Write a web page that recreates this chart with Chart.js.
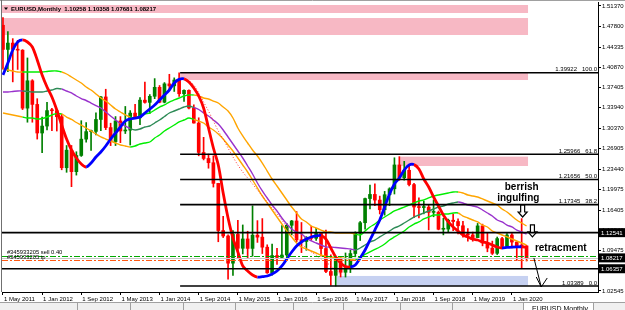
<!DOCTYPE html>
<html lang="en">
<head>
<meta charset="UTF-8">
<title>EURUSD Monthly</title>
<script src="https://cdn.jsdelivr.net/npm/chart.js"></script>
<style>
  html, body { margin: 0; padding: 0; background: #fff; }
  #wrap { width: 625px; height: 310px; }
</style>
</head>
<body>
<div id="wrap"><canvas id="eurusdChart" width="625" height="310"></canvas></div>
<script>
// EURUSD monthly candles, May 2011 .. Apr 2020 (index 0 = May 2011)
const opens = [1.4807,1.4393,1.4502,1.4393,1.4380,1.3387,1.3856,1.3451,1.2961,1.3080,
  1.3345,1.3343,1.3240,1.2366,1.2667,1.2299,1.2576,1.2856,1.2985,1.2988,
  1.3193,1.3579,1.3054,1.2814,1.3168,1.2996,1.3010,1.3302,1.3221,1.3524,
  1.3486,1.3590,1.3744,1.3488,1.3803,1.3769,1.3868,1.3634,1.3692,1.3389,
  1.3132,1.2628,1.2525,1.2452,1.2098,1.1290,1.1197,1.0731,1.1224,1.0986,
  1.1146,1.0984,1.1211,1.1177,1.1005,1.0565,1.0862,1.0830,1.0871,1.1380,
  1.1454,1.1132,1.1103,1.1175,1.1157,1.1240,1.0982,1.0589,1.0522,1.0798,
  1.0575,1.0652,1.0896,1.1244,1.1424,1.1838,1.1909,1.1812,1.1646,1.1904,
  1.2005,1.2414,1.2194,1.2323,1.2078,1.1693,1.1684,1.1691,1.1601,1.1604,
  1.1312,1.1315,1.1467,1.1445,1.1372,1.1218,1.1215,1.1169,1.1370,1.1077,
  1.0989,1.0900,1.1152,1.1017,1.1213,1.1093,1.1027,1.10258];
const highs = [1.4940,1.4698,1.4578,1.4549,1.4390,1.4247,1.3875,1.3549,1.3234,1.3486,
  1.3385,1.3365,1.3284,1.2747,1.2748,1.2640,1.3172,1.3140,1.3010,1.3308,
  1.3590,1.3711,1.3129,1.3243,1.3242,1.3416,1.3345,1.3452,1.3568,1.3833,
  1.3620,1.3893,1.3775,1.3825,1.3967,1.3906,1.3993,1.3700,1.3700,1.3444,
  1.3222,1.2887,1.2600,1.2570,1.2100,1.1534,1.1215,1.1290,1.1467,1.1386,
  1.1278,1.1714,1.1460,1.1495,1.1046,1.1060,1.0985,1.1376,1.1411,1.1464,
  1.1616,1.1428,1.1186,1.1366,1.1327,1.1259,1.1300,1.0874,1.0829,1.0829,
  1.0906,1.0951,1.1268,1.1446,1.1846,1.2070,1.2092,1.1880,1.1961,1.2023,
  1.2537,1.2556,1.2476,1.2414,1.2097,1.1852,1.1791,1.1733,1.1815,1.1625,
  1.1500,1.1486,1.1570,1.1489,1.1448,1.1324,1.1264,1.1412,1.1400,1.1249,
  1.1109,1.1179,1.1175,1.1240,1.1239,1.1096,1.1495,1.10358];
const lows = [1.4055,1.4010,1.3837,1.4050,1.3362,1.3146,1.3146,1.2857,1.2624,1.3013,
  1.3003,1.2995,1.2331,1.2288,1.2042,1.2240,1.2560,1.2802,1.2661,1.2927,
  1.3001,1.3019,1.2745,1.2746,1.2796,1.2952,1.2755,1.3205,1.3103,1.3474,
  1.3295,1.3549,1.3478,1.3477,1.3705,1.3673,1.3587,1.3503,1.3373,1.3130,
  1.2570,1.2500,1.2358,1.2035,1.1098,1.1170,1.0458,1.0520,1.0819,1.0889,
  1.0809,1.0850,1.1087,1.0896,1.0557,1.0524,1.0711,1.0809,1.0822,1.1216,
  1.1097,1.0912,1.0952,1.1123,1.1122,1.0852,1.0569,1.0352,1.0340,1.0494,
  1.0493,1.0570,1.0839,1.1119,1.1312,1.1662,1.1717,1.1574,1.1554,1.1717,
  1.1916,1.2152,1.2154,1.2055,1.1510,1.1508,1.1576,1.1301,1.1526,1.1302,
  1.1216,1.1269,1.1289,1.1234,1.1176,1.1110,1.1107,1.1168,1.1028,1.0926,
  1.0879,1.0879,1.0981,1.1003,1.0992,1.0778,1.0636,1.07681];
const closes = [1.4393,1.4502,1.4393,1.4380,1.3387,1.3856,1.3451,1.2961,1.3080,1.3345,
  1.3343,1.3240,1.2366,1.2667,1.2299,1.2576,1.2856,1.2985,1.2988,1.3193,
  1.3579,1.3054,1.2814,1.3168,1.2996,1.3010,1.3302,1.3221,1.3524,1.3486,
  1.3590,1.3744,1.3488,1.3803,1.3769,1.3868,1.3634,1.3692,1.3389,1.3132,
  1.2628,1.2525,1.2452,1.2098,1.1290,1.1197,1.0731,1.1224,1.0986,1.1146,
  1.0984,1.1211,1.1177,1.1005,1.0565,1.0862,1.0830,1.0871,1.1380,1.1454,
  1.1132,1.1103,1.1175,1.1157,1.1240,1.0982,1.0589,1.0522,1.0798,1.0575,
  1.0652,1.0896,1.1244,1.1424,1.1838,1.1909,1.1812,1.1646,1.1904,1.2005,
  1.2414,1.2194,1.2323,1.2078,1.1693,1.1684,1.1691,1.1601,1.1604,1.1312,
  1.1315,1.1467,1.1445,1.1372,1.1218,1.1215,1.1169,1.1370,1.1077,1.0989,
  1.0900,1.1152,1.1017,1.1213,1.1093,1.1026,1.1026,1.08217];

// smoothed trend line (blue rising / red falling)
const trendLine = [1.3955,1.4161,1.4383,1.4520,1.4555,1.4520,1.4435,1.4212,1.3955,1.3749,
  1.3578,1.3355,1.3098,1.2858,1.2670,1.2533,1.2430,1.2379,1.2447,1.2550,
  1.2636,1.2739,1.2858,1.2961,1.3064,1.3167,1.3201,1.3218,1.3235,1.3304,
  1.3372,1.3441,1.3527,1.3612,1.3698,1.3818,1.3880,1.3890,1.3835,1.3732,
  1.3595,1.3390,1.3047,1.2704,1.2413,1.1933,1.1505,1.1162,1.0923,1.0683,
  1.0597,1.0529,1.0494,1.0500,1.0511,1.0546,1.0597,1.0683,1.0803,1.0923,
  1.1025,1.1094,1.1145,1.1180,1.1197,1.1205,1.1145,1.0991,1.0837,1.0734,
  1.0672,1.0666,1.0700,1.0820,1.0957,1.1128,1.1299,1.1471,1.1693,1.1916,
  1.2088,1.2190,1.2327,1.2413,1.2420,1.2344,1.2173,1.2036,1.1865,1.1711,
  1.1556,1.1437,1.1351,1.1282,1.1214,1.1180,1.1145,1.1128,1.1094,1.1077,
  1.1042,1.1008,1.0991,1.1000,1.1006,1.1010,1.1012,1.1004];

// three-line ribbon: upper, middle, lower
const upperBand = [1.4058,1.4041,1.4024,1.4006,1.4006,1.4006,1.4006,1.4006,1.4006,1.4015,
  1.4024,1.4024,1.4006,1.3972,1.3921,1.3869,1.3818,1.3749,1.3698,1.3630,
  1.3561,1.3509,1.3441,1.3372,1.3321,1.3270,1.3235,1.3218,1.3252,1.3287,
  1.3304,1.3355,1.3406,1.3441,1.3492,1.3527,1.3561,1.3595,1.3612,1.3612,
  1.3595,1.3561,1.3544,1.3509,1.3475,1.3406,1.3338,1.3218,1.3047,1.2910,
  1.2790,1.2670,1.2567,1.2447,1.2310,1.2173,1.2053,1.1933,1.1813,1.1693,
  1.1591,1.1488,1.1437,1.1368,1.1334,1.1299,1.1265,1.1265,1.1248,1.1248,
  1.1248,1.1248,1.1231,1.1214,1.1282,1.1351,1.1402,1.1471,1.1522,1.1574,
  1.1625,1.1659,1.1693,1.1728,1.1762,1.1796,1.1813,1.1848,1.1882,1.1899,
  1.1916,1.1933,1.1950,1.1950,1.1933,1.1899,1.1882,1.1865,1.1831,1.1796,
  1.1762,1.1728,1.1659,1.1608,1.1539,1.1471,1.1419,1.1368];
const middleBand = [1.3664,1.3664,1.3672,1.3681,1.3681,1.3672,1.3664,1.3664,1.3664,1.3681,
  1.3698,1.3724,1.3715,1.3681,1.3647,1.3595,1.3552,1.3518,1.3475,1.3432,
  1.3390,1.3321,1.3252,1.3184,1.3124,1.3081,1.3038,1.3013,1.3030,1.3064,
  1.3081,1.3133,1.3184,1.3244,1.3304,1.3338,1.3372,1.3406,1.3424,1.3398,
  1.3364,1.3304,1.3252,1.3184,1.3115,1.3013,1.2893,1.2773,1.2653,1.2533,
  1.2396,1.2259,1.2105,1.1968,1.1848,1.1728,1.1625,1.1505,1.1402,1.1317,
  1.1265,1.1231,1.1162,1.1111,1.1077,1.1042,1.1008,1.1008,1.0999,1.0991,
  1.0982,1.0974,1.0957,1.0991,1.1042,1.1094,1.1128,1.1180,1.1231,1.1282,
  1.1334,1.1368,1.1419,1.1471,1.1522,1.1556,1.1591,1.1625,1.1659,1.1693,
  1.1711,1.1745,1.1762,1.1779,1.1762,1.1728,1.1711,1.1693,1.1642,1.1591,
  1.1539,1.1471,1.1437,1.1385,1.1351,1.1299,1.1265,1.1231];
const lowerBand = [1.3304,1.3287,1.3270,1.3252,1.3235,1.3218,1.3218,1.3201,1.3210,1.3235,
  1.3270,1.3295,1.3287,1.3235,1.3193,1.3141,1.3098,1.3047,1.2996,1.2944,
  1.2893,1.2858,1.2824,1.2790,1.2756,1.2739,1.2721,1.2739,1.2773,1.2790,
  1.2807,1.2876,1.2927,1.2996,1.3047,1.3098,1.3150,1.3184,1.3218,1.3193,
  1.3167,1.3133,1.3064,1.3013,1.2944,1.2858,1.2756,1.2653,1.2533,1.2413,
  1.2293,1.2156,1.2019,1.1882,1.1762,1.1642,1.1522,1.1402,1.1282,1.1180,
  1.1077,1.1008,1.0974,1.0940,1.0905,1.0871,1.0846,1.0837,1.0829,1.0820,
  1.0811,1.0803,1.0786,1.0837,1.0880,1.0923,1.0966,1.1008,1.1060,1.1128,
  1.1180,1.1231,1.1282,1.1351,1.1402,1.1437,1.1488,1.1522,1.1556,1.1556,
  1.1574,1.1574,1.1591,1.1591,1.1539,1.1505,1.1471,1.1437,1.1385,1.1351,
  1.1282,1.1248,1.1214,1.1180,1.1145,1.1111,1.1077,1.1042];
// month ranges where the ribbon is in its bullish colours
const bullSpans = [[4, 12], [26, 39], [72, 93]];

// dotted fast line during the 2014-2017 fall, starts at month 36
const dottedStart = 36;
const dottedLine = [1.3921,1.3886,1.3852,1.3784,1.3647,1.3492,1.3338,1.3167,1.2996,1.2858,
  1.2704,1.2550,1.2413,1.2293,1.2190,1.2088,1.1985,1.1882,1.1779,1.1676,
  1.1574,1.1471,1.1351,1.1248,1.1128,1.1060,1.0991,1.0923,1.0871,1.0803,
  1.0752,1.0683,1.0614,1.0529];

// axis ticks
const xTickIdx = [0, 8, 16, 24, 32, 40, 48, 56, 64, 72, 80, 88, 96, 104];
const xTickText = ['1 May 2011', '1 Jan 2012', '1 Sep 2012', '1 May 2013', '1 Jan 2014', '1 Sep 2014', '1 May 2015',
  '1 Jan 2016', '1 Sep 2016', '1 May 2017', '1 Jan 2018', '1 Sep 2018', '1 May 2019', '1 Jan 2020'];
const yTicks = [1.51370, 1.47800, 1.44335, 1.40870, 1.37405, 1.33940, 1.30370, 1.26905,
  1.23440, 1.19975, 1.16405, 1.12940, 1.09475, 1.06010, 1.02545];

// chart objects
const zoneTop = [1.5154, 1.4931, 1.3990, 1.2556, 1.0512];
const zoneBottom = [1.5017, 1.4640, 1.3869, 1.2396, 1.0345];
const zoneFrom = [-1, -1, 36.2, 81.1, 68.2];
const zoneTo = 107.3;
const fibLevels = [1.39922, 1.25966, 1.21656, 1.17345, 1.03389];
const fibPct = ['100.0', '61.8', '50.0', '38.2', '0.0'];
const fibFrom = 36.2;
const supportLevels = [1.12541, 1.06357];
const sellLevel = 1.0854;
const tpLevel = 1.0786;
const bidPrice = closes[closes.length - 1];
const axisMarks = [1.12541, bidPrice, 1.06357];

const idx = opens.map((_, i) => i);
const isBull = i => closes[i] >= opens[i];
const inBull = i => bullSpans.some(s => i >= s[0] && i < s[1]);
const BULL = '#008000', BEAR = '#ff0000';

function hline(ctx, x0, x1, yy) {
  ctx.beginPath(); ctx.moveTo(x0, yy); ctx.lineTo(x1, yy); ctx.stroke();
}

function hollowArrow(ctx, cx, tip, h) {
  ctx.beginPath();
  ctx.moveTo(cx - 2, tip - h);
  ctx.lineTo(cx + 2, tip - h);
  ctx.lineTo(cx + 2, tip - 5);
  ctx.lineTo(cx + 4.5, tip - 5);
  ctx.lineTo(cx, tip);
  ctx.lineTo(cx - 4.5, tip - 5);
  ctx.lineTo(cx - 2, tip - 5);
  ctx.closePath();
  ctx.strokeStyle = '#000'; ctx.lineWidth = 1.2; ctx.stroke();
}

const mtObjects = {
  id: 'mtObjects',
  beforeDatasetsDraw(chart) {
    const {ctx, chartArea: a, scales: {x, y}} = chart;
    ctx.save();
    ctx.beginPath(); ctx.rect(a.left, 0, a.right - a.left, a.bottom); ctx.clip();
    zoneTop.forEach((top, k) => {
      const x0 = Math.max(a.left, x.getPixelForValue(zoneFrom[k]));
      const x1 = x.getPixelForValue(zoneTo);
      const y0 = y.getPixelForValue(top), y1 = y.getPixelForValue(zoneBottom[k]);
      ctx.fillStyle = k === 4 ? '#c6d1f1' : '#f7b8c4';
      ctx.fillRect(x0, y0, x1 - x0, y1 - y0);
    });
    ctx.restore();
  },
  afterDatasetsDraw(chart) {
    const {ctx, chartArea: a, scales: {x, y}} = chart;
    const px = v => x.getPixelForValue(v), py = v => y.getPixelForValue(v);
    ctx.save();
    // current bid
    ctx.strokeStyle = '#c8c8c8'; ctx.lineWidth = 1;
    hline(ctx, a.left, a.right, Math.round(py(bidPrice)) + 0.5);
    // horizontal levels
    ctx.strokeStyle = '#000'; ctx.lineWidth = 1.6;
    supportLevels.forEach(v => hline(ctx, a.left, a.right, py(v)));
    ctx.font = '6px "Liberation Sans"';
    ctx.fillStyle = '#000'; ctx.textAlign = 'right'; ctx.textBaseline = 'alphabetic';
    fibLevels.forEach((v, k) => {
      hline(ctx, px(fibFrom), a.right, py(v));
      ctx.fillText(v.toFixed(5) + '   ' + fibPct[k], a.right - 1, py(v) - 1.5);
    });
    // order lines
    ctx.lineWidth = 1;
    ctx.setLineDash([6, 2, 2, 2]);
    ctx.strokeStyle = '#00a800';
    hline(ctx, a.left, a.right, Math.round(py(sellLevel)) + 0.5);
    ctx.strokeStyle = '#ff5a14';
    hline(ctx, a.left, a.right, Math.round(py(tpLevel)) + 0.5);
    ctx.setLineDash([]);
    ctx.textAlign = 'left';
    ctx.font = '5.8px "Liberation Sans"';
    ctx.fillText('#345933205 sell 0.40', px(0.8), py(sellLevel) - 1.5);
    ctx.fillText('#345933205 tp', px(0.8), py(tpLevel) - 0.5);
    // notes
    ctx.font = 'bold 10px "Liberation Sans"';
    ctx.textAlign = 'center';
    ctx.fillText('berrish', px(106.0), py(1.1985));
    ctx.fillText('ingulfing', px(105.3), py(1.1796));
    ctx.textAlign = 'left';
    ctx.fillText('retracment', px(108.7), py(1.0940));
    hollowArrow(ctx, px(106.2), py(1.1522), 12);
    hollowArrow(ctx, px(108.2), py(1.1180), 12);
    // thin arrow pointing down
    const sx = px(108.5), sy = py(1.0820), tx = px(110.0), ty = py(1.0323);
    ctx.strokeStyle = '#000'; ctx.lineWidth = 1;
    ctx.beginPath(); ctx.moveTo(sx, sy); ctx.lineTo(tx, ty); ctx.stroke();
    ctx.beginPath(); ctx.moveTo(tx - 5, ty - 10); ctx.lineTo(tx, ty); ctx.lineTo(tx + 6, ty - 9); ctx.stroke();
    ctx.restore();
  },
  afterDraw(chart) {
    const {ctx, chartArea: a, scales: {y}} = chart;
    const W = chart.width;
    ctx.save();
    // frame
    ctx.strokeStyle = '#a0a0a0'; ctx.lineWidth = 1;
    hline(ctx, 0, W, 0.5);
    ctx.strokeStyle = '#707070';
    ctx.beginPath(); ctx.moveTo(1.5, 0); ctx.lineTo(1.5, a.bottom); ctx.stroke();
    // price boxes on the axis
    ctx.font = '6px "Liberation Sans"';
    ctx.textAlign = 'left'; ctx.textBaseline = 'middle';
    axisMarks.forEach(v => {
      const yy = y.getPixelForValue(v);
      ctx.fillStyle = '#000'; ctx.fillRect(a.right + 1, yy - 4.5, W - a.right - 1, 9);
      ctx.fillStyle = '#fff'; ctx.fillText(v.toFixed(5), a.right + 3, yy + 0.5);
    });
    // title
    const last = opens.length - 1;
    ctx.fillStyle = '#000';
    ctx.beginPath(); ctx.moveTo(4, 7.5); ctx.lineTo(8, 7.5); ctx.lineTo(6, 10); ctx.closePath(); ctx.fill();
    ctx.textBaseline = 'alphabetic';
    ctx.font = 'bold 6px "Liberation Sans"';
    ctx.fillText('EURUSD,Monthly  ' + [opens[last], highs[last], lows[last], closes[last]].map(v => v.toFixed(5)).join(' '), 11, 11);
    // tab strip
    ctx.fillStyle = '#f0f0f0'; ctx.fillRect(0, 302, W, 8);
    ctx.strokeStyle = '#a0a0a0';
    hline(ctx, 0, W, 302.5);
    [77, 130, 183, 235, 293, 343, 400, 452, 523, 593].forEach(sx => {
      ctx.beginPath(); ctx.moveTo(sx + 0.5, 303); ctx.lineTo(sx + 0.5, 310); ctx.stroke();
    });
    ctx.fillStyle = '#fff'; ctx.fillRect(524, 303, 69, 7);
    ctx.fillStyle = '#000'; ctx.font = '7px "Liberation Sans"';
    ctx.fillText('EURUSD,Monthly', 532, 311);
    ctx.restore();
  }
};

const bandSeg = (up, down) => ({ borderColor: c => inBull(c.p0DataIndex) ? up : down });

new Chart(document.getElementById('eurusdChart'), {
  type: 'bar',
  data: {
    datasets: [
      { type: 'bar', label: 'wicks', data: idx.map(i => ({ x: i, y: [lows[i], highs[i]] })),
        backgroundColor: c => isBull(c.dataIndex) ? BULL : BEAR, barThickness: 1, grouped: false, order: 10 },
      { type: 'bar', label: 'bodies', data: idx.map(i => ({ x: i, y: [opens[i], closes[i]] })),
        backgroundColor: c => isBull(c.dataIndex) ? BULL : BEAR, barThickness: 3, minBarLength: 1, grouped: false, order: 9 },
      { type: 'line', label: 'upper', data: idx.map(i => ({ x: i, y: upperBand[i] })), borderWidth: 1.4,
        pointRadius: 0, tension: 0.3, segment: bandSeg('#00ee00', '#ffa500'), order: 5 },
      { type: 'line', label: 'middle', data: idx.map(i => ({ x: i, y: middleBand[i] })), borderWidth: 1.4,
        pointRadius: 0, tension: 0.3, segment: bandSeg('#2e8b57', '#9932cc'), order: 5 },
      { type: 'line', label: 'lower', data: idx.map(i => ({ x: i, y: lowerBand[i] })), borderWidth: 1.4,
        pointRadius: 0, tension: 0.3, segment: bandSeg('#00ee00', '#ffa500'), order: 5 },
      { type: 'line', label: 'dotted', data: dottedLine.map((v, k) => ({ x: dottedStart + k, y: v })),
        borderColor: '#ff3030', borderWidth: 1, borderDash: [1, 2], pointRadius: 0, tension: 0.3, order: 4 },
      { type: 'line', label: 'trend', data: idx.map(i => ({ x: i, y: trendLine[i] })), borderWidth: 2.8,
        pointRadius: 0, tension: 0.3,
        segment: { borderColor: c => c.p1.parsed.y >= c.p0.parsed.y ? '#0000ff' : '#ff0000' }, order: 1 }
    ]
  },
  options: {
    responsive: false,
    animation: false,
    devicePixelRatio: 1,
    events: [],
    layout: { padding: { left: 2, top: 2, right: 0, bottom: 0 } },
    plugins: { legend: { display: false }, tooltip: { enabled: false } },
    scales: {
      x: {
        type: 'linear', min: -0.2, max: 121.6, offset: false,
        afterBuildTicks: s => { s.ticks = xTickIdx.map(v => ({ value: v })); },
        afterFit: s => { s.height = 18; s.paddingLeft = 0; s.paddingRight = 0; },
        grid: { drawOnChartArea: false, drawTicks: true, tickLength: 3, color: '#000', offset: false },
        border: { display: true, color: '#000' },
        ticks: {
          autoSkip: false, maxRotation: 0, minRotation: 0, align: 'start', padding: 1, labelOffset: 1,
          color: '#000', font: { family: "'Liberation Sans Narrow', 'Liberation Sans', sans-serif", size: 6 },
          callback: v => xTickText[xTickIdx.indexOf(v)]
        }
      },
      y: {
        type: 'linear', position: 'right', min: 1.02372, max: 1.52055,
        afterBuildTicks: s => { s.ticks = yTicks.map(v => ({ value: v })); },
        afterFit: s => { s.width = 27; s.paddingTop = 0; s.paddingBottom = 0; },
        grid: { drawOnChartArea: false, tickLength: 3, color: '#000' },
        border: { display: true, color: '#000' },
        ticks: {
          autoSkip: false, padding: 1, color: '#000',
          font: { family: "'Liberation Sans', sans-serif", size: 6 },
          callback: v => v.toFixed(5)
        }
      }
    }
  },
  plugins: [mtObjects]
});
</script>
</body>
</html>
